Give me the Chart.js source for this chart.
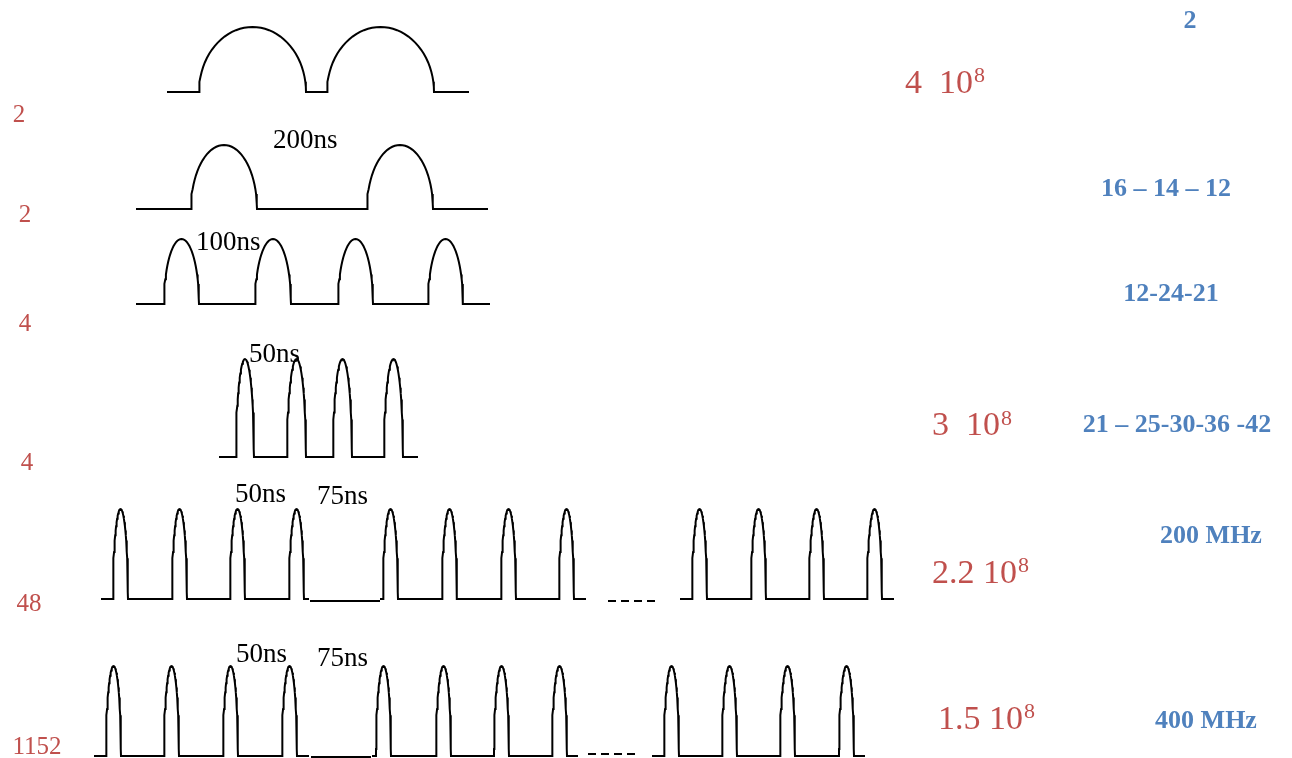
<!DOCTYPE html>
<html>
<head>
<meta charset="utf-8">
<script src="https://cdn.jsdelivr.net/npm/chart.js@4/dist/chart.umd.min.js"></script>
<style>
html,body{margin:0;padding:0;background:#fff;}
#wrap{position:relative;width:1292px;height:758px;}
</style>
</head>
<body>
<div id="wrap"><canvas id="c" width="1292" height="758"></canvas></div>
<script>
// ---- data ----
const rowBase = [92, 209, 304, 457, 599, 756];
const rowPeak = [27, 145, 239, 359, 509, 666];
const rowSegments = [
  [[167, 469]],
  [[136, 488]],
  [[136, 490]],
  [[219, 418]],
  [[101, 309], [380, 586], [680, 894]],
  [[94, 309], [372, 578], [652, 865]]
];
const rowPulses = [
  [[199, 306], [327, 434]],
  [[191, 257], [367, 433]],
  [[164, 199], [255, 291], [338, 373], [428, 463]],
  [[236, 254], [287, 306], [333, 352], [384, 403]],
  [[113, 128], [172, 187], [230, 245], [289, 304], [383, 398], [442, 457], [501, 516], [559, 574], [692, 707], [751, 766], [809, 824], [867, 882]],
  [[106, 121], [164, 179], [223, 238], [282, 297], [376, 391], [436, 451], [494, 509], [552, 567], [664, 679], [722, 737], [780, 795], [839, 854]]
];
const gapLines = [[310, 380, 601], [311, 371, 757]];
const dashLines = [[608, 657, 601], [588, 638, 754]];

const timeLabels = ["200ns", "100ns", "50ns", "50ns", "75ns", "50ns", "75ns"];
const countLabels = ["2", "2", "4", "4", "48", "1152"];
const rateMant = ["4  10", "3  10", "2.2 10", "1.5 10"];
const rateExp = ["8", "8", "8", "8"];
const blueLabels = ["2", "16 – 14 – 12", "12-24-21", "21 – 25-30-36 -42", "200 MHz", "400 MHz"];

// ---- layout (positions in picture units) ----
const timePos = [[273, 148], [196, 250], [249, 362], [235, 502], [317, 504], [236, 662], [317, 666]];
const countPos = [[19, 122], [25, 222], [25, 331], [27, 470], [29, 611], [37, 754]];
const ratePos = [[905, 93, 82], [932, 435, 425], [932, 583, 572], [938, 729, 718]];
const bluePos = [[1190, 28], [1166, 196], [1171, 301], [1177, 432], [1211, 543], [1206, 728]];

function pulsePoints(base, peak, segs, pulses) {
  const out = [];
  segs.forEach(([s, e]) => {
    const pts = [{x: s, y: base}];
    pulses.filter(p => p[0] >= s && p[1] <= e).forEach(([r, f]) => {
      pts.push({x: r, y: base});
      const n = 40;
      for (let i = 1; i < n; i++) {
        const t = Math.PI * i / n;
        pts.push({x: r + (f - r) / 2 * (1 - Math.cos(t)), y: base - (base - peak) * Math.sin(t)});
      }
      pts.push({x: f, y: base});
    });
    pts.push({x: e, y: base});
    out.push(pts);
  });
  return out;
}

const datasets = [];
rowBase.forEach((b, i) => {
  pulsePoints(b, rowPeak[i], rowSegments[i], rowPulses[i]).forEach(pts => {
    datasets.push({data: pts, showLine: true, borderColor: '#000', borderWidth: 2, pointRadius: 0, tension: 0, fill: false});
  });
});
gapLines.forEach(([s, e, y]) => datasets.push({data: [{x: s, y}, {x: e, y}], showLine: true, borderColor: '#000', borderWidth: 2, pointRadius: 0}));
dashLines.forEach(([s, e, y]) => datasets.push({data: [{x: s, y}, {x: e, y}], showLine: true, borderColor: '#000', borderWidth: 2, borderDash: [8, 5], pointRadius: 0}));

const textPlugin = {
  id: 'texts',
  afterDatasetsDraw(chart) {
    const ctx = chart.ctx, X = chart.scales.x, Y = chart.scales.y;
    const px = v => X.getPixelForValue(v), py = v => Y.getPixelForValue(v);
    ctx.save();
    ctx.textBaseline = 'alphabetic';
    // black time labels
    ctx.fillStyle = '#000';
    ctx.font = '27px "Liberation Serif", "Times New Roman", serif';
    ctx.textAlign = 'left';
    timeLabels.forEach((t, i) => ctx.fillText(t, px(timePos[i][0]), py(timePos[i][1])));
    // red counts
    ctx.fillStyle = '#c0504d';
    ctx.font = '25px "Liberation Serif", "Times New Roman", serif';
    ctx.textAlign = 'center';
    countLabels.forEach((t, i) => ctx.fillText(t, px(countPos[i][0]), py(countPos[i][1])));
    // red rates
    ctx.textAlign = 'left';
    rateMant.forEach((t, i) => {
      ctx.font = '34px "Liberation Serif", "Times New Roman", serif';
      const x0 = px(ratePos[i][0]);
      ctx.fillText(t, x0, py(ratePos[i][1]));
      const w = ctx.measureText(t).width;
      ctx.font = '22px "Liberation Serif", "Times New Roman", serif';
      ctx.fillText(rateExp[i], x0 + w + 1, py(ratePos[i][2]));
    });
    // blue labels
    ctx.fillStyle = '#4f81bd';
    ctx.font = 'bold 26px "Liberation Serif", "Times New Roman", serif';
    ctx.textAlign = 'center';
    blueLabels.forEach((t, i) => ctx.fillText(t, px(bluePos[i][0]), py(bluePos[i][1])));
    ctx.restore();
  }
};

new Chart(document.getElementById('c'), {
  type: 'scatter',
  data: {datasets},
  options: {
    responsive: false,
    animation: false,
    devicePixelRatio: 1,
    layout: {padding: 0},
    plugins: {legend: {display: false}, tooltip: {enabled: false}},
    scales: {
      x: {type: 'linear', min: 0, max: 1292, display: false},
      y: {type: 'linear', min: 0, max: 758, reverse: true, display: false}
    }
  },
  plugins: [textPlugin]
});
</script>
</body>
</html>
